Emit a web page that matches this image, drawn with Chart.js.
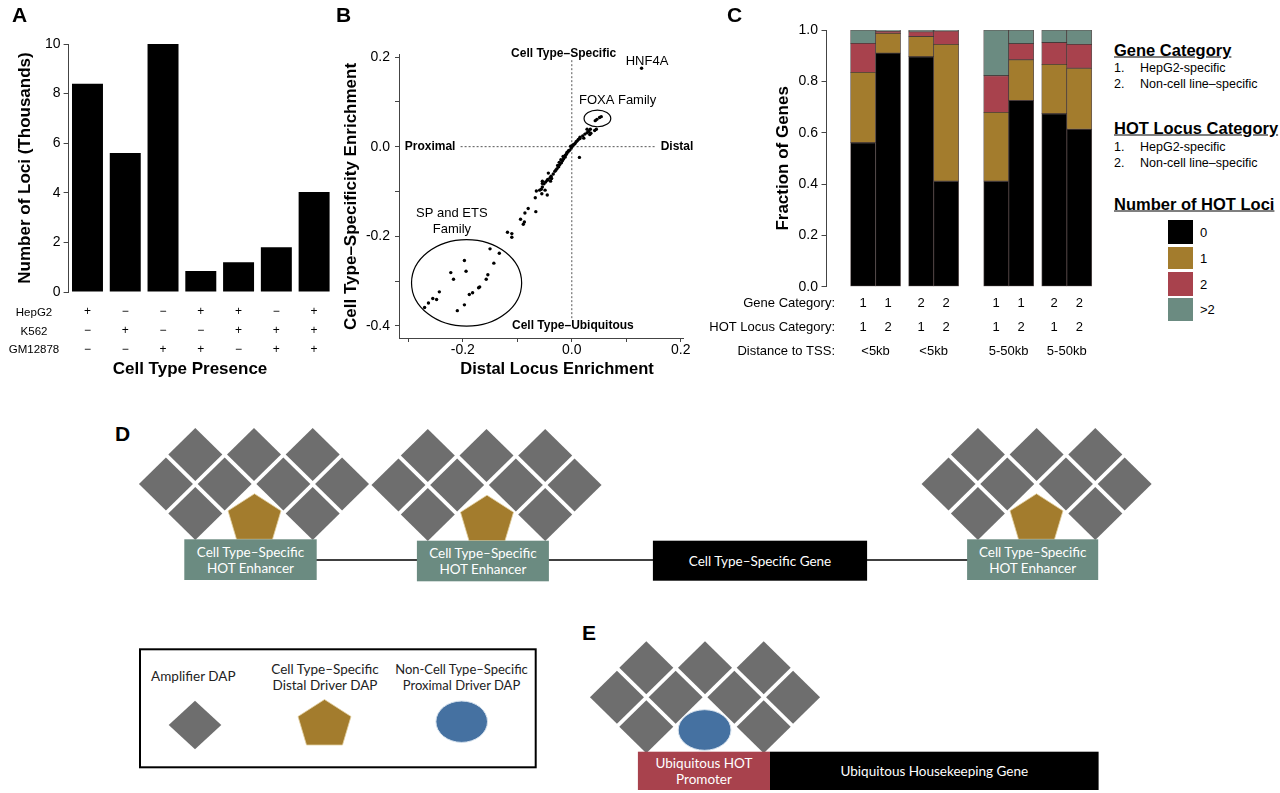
<!DOCTYPE html>
<html>
<head>
<meta charset="utf-8">
<script src="https://cdn.jsdelivr.net/npm/chart.js@4.4.1/dist/chart.umd.min.js"></script>
<style>
  body { margin: 0; background: #fff; }
  #page { position: relative; width: 1280px; height: 793px; overflow: hidden;
          font-family: "Liberation Sans", Arial, sans-serif; color: #000; }
  .box { position: absolute; }
  .t { position: absolute; white-space: nowrap; transform: translateY(-50%); }
  .c { transform: translate(-50%, -50%); }
  .panel { font-weight: bold; font-size: 21px; }
  .axt { font-weight: bold; font-size: 17px; }
  .head { font-weight: bold; font-size: 16.5px; text-decoration: underline; }
  .item { font-size: 12.5px; }
  .sw { position: absolute; left: 1168px; width: 25px; }
  svg { position: absolute; left: 0; top: 0; }
</style>
</head>
<body>
<div id="page">
  <svg id="diagram" width="1280" height="793"></svg>

  <div class="box" style="left:0;top:0;width:340px;height:390px"><canvas id="chartA"></canvas></div>
  <div class="box" style="left:340px;top:0;width:360px;height:390px"><canvas id="chartB"></canvas></div>
  <div class="box" style="left:700px;top:0;width:410px;height:390px"><canvas id="chartC"></canvas></div>

  <div class="t panel" style="left:12px;top:15px">A</div>
  <div class="t panel" style="left:336px;top:15px">B</div>
  <div class="t panel" style="left:727px;top:15px">C</div>
  <div class="t panel" style="left:115px;top:434px">D</div>
  <div class="t panel" style="left:582px;top:633px">E</div>

  <div class="t c axt" style="left:190px;top:369px">Cell Type Presence</div>
  <div class="t c axt" style="left:557px;top:368px;font-size:16.5px">Distal Locus Enrichment</div>

  <div id="rowsA"></div>

  <div class="t head" style="left:1114px;top:50px">Gene Category</div>
  <div class="t item" style="left:1114px;top:68px">1.</div>
  <div class="t item" style="left:1140px;top:68px">HepG2-specific</div>
  <div class="t item" style="left:1114px;top:84px">2.</div>
  <div class="t item" style="left:1140px;top:84px">Non-cell line–specific</div>
  <div class="t head" style="left:1114px;top:128px">HOT Locus Category</div>
  <div class="t item" style="left:1114px;top:147px">1.</div>
  <div class="t item" style="left:1140px;top:147px">HepG2-specific</div>
  <div class="t item" style="left:1114px;top:163px">2.</div>
  <div class="t item" style="left:1140px;top:163px">Non-cell line–specific</div>
  <div class="t head" style="left:1114px;top:204px">Number of HOT Loci</div>
  <div id="legendC"></div>
</div>

<script>
// ---- panel A data ----
const cellTypes = ['HepG2', 'K562', 'GM12878'];
const hepg2   = ['+', '−', '−', '+', '+', '−', '+'];
const k562    = ['−', '+', '−', '−', '+', '+', '+'];
const gm12878 = ['−', '−', '+', '+', '−', '+', '+'];
const lociThousands = [8.4, 5.6, 10.0, 0.85, 1.2, 1.8, 4.03];

// ---- panel B data ----
const distalEnrich = [
  0.128,
  0.043, 0.046, 0.051, 0.054,
  0.045, 0.042, 0.035, 0.034, 0.033, 0.031, 0.028, 0.028, 0.024, 0.022, 0.020, 0.015, 0.015, 0.012,
  0.010, 0.008, 0.006, 0.004, 0.001, 0.002, -0.001, -0.002, -0.004, -0.006, -0.007, -0.009, -0.010,
  -0.012, -0.012, -0.015, -0.016, -0.017, -0.019, -0.020, -0.022, -0.023, -0.024, -0.026, -0.027, -0.029,
  0.014,
  -0.031, -0.034, -0.037, -0.038, -0.040, -0.043, -0.044, -0.045, -0.039, -0.048, -0.051, -0.054,
  -0.054, -0.056, -0.049, -0.059, -0.065, -0.055, -0.045, -0.067, -0.054,
  -0.066, -0.080, -0.086, -0.087, -0.089, -0.094, -0.110, -0.110, -0.118,
  -0.270, -0.263, -0.255, -0.248, -0.243, -0.222, -0.217, -0.197, -0.194, -0.210,
  -0.197, -0.188, -0.182, -0.171, -0.169, -0.157, -0.154, -0.143, -0.150, -0.133
];
const specEnrich = [
  0.175,
  0.058, 0.061, 0.065, 0.067,
  0.039, 0.036, 0.030, 0.039, 0.027, 0.034, 0.039, 0.031, 0.028, 0.019, 0.024, 0.021, 0.018, 0.016,
  0.013, 0.011, 0.007, 0.005, 0.001, 0.004, -0.003, 0.001, -0.008, -0.009, -0.012, -0.013, -0.017,
  -0.019, -0.023, -0.027, -0.022, -0.031, -0.036, -0.029, -0.040, -0.035, -0.045, -0.042, -0.049, -0.052,
  -0.024,
  -0.055, -0.061, -0.071, -0.066, -0.070, -0.059, -0.073, -0.075, -0.077, -0.079, -0.083, -0.077,
  -0.090, -0.095, -0.097, -0.097, -0.099, -0.105, -0.108, -0.114, -0.082,
  -0.145, -0.138, -0.148, -0.168, -0.173, -0.162, -0.194, -0.202, -0.191,
  -0.359, -0.349, -0.339, -0.341, -0.324, -0.281, -0.296, -0.254, -0.278, -0.366,
  -0.353, -0.330, -0.326, -0.315, -0.313, -0.296, -0.286, -0.260, -0.228, -0.238
];

// ---- panel C data ----
const geneCat = ['1', '1', '2', '2', '1', '1', '2', '2'];
const hotCat  = ['1', '2', '1', '2', '1', '2', '1', '2'];
const tssDist = ['<5kb', '<5kb', '5-50kb', '5-50kb'];
const rowNamesC = ['Gene Category:', 'HOT Locus Category:', 'Distance to TSS:'];
const hot0    = [0.561, 0.910, 0.896, 0.411, 0.411, 0.725, 0.674, 0.613];
const hot1    = [0.274, 0.077, 0.079, 0.533, 0.268, 0.159, 0.192, 0.238];
const hot2    = [0.113, 0.008, 0.018, 0.052, 0.143, 0.063, 0.085, 0.093];
const hotMore = [0.052, 0.005, 0.007, 0.004, 0.178, 0.053, 0.049, 0.056];
const hotNames = ['0', '1', '2', '>2'];

const GRAY = '#6e6e6e', GOLD = '#a37c2d', RED = '#a8424d', TEAL = '#6b8b81', BLUE = '#4571a1';
const segColors = ['#000000', GOLD, RED, TEAL];

Chart.defaults.font.family = '"Liberation Sans", Arial, sans-serif';
Chart.defaults.color = '#000';
const AX = '#444';

// ---------- A ----------
new Chart(document.getElementById('chartA'), {
  type: 'bar',
  data: {
    labels: hepg2.map((h, i) => [h, k562[i], gm12878[i]]),
    datasets: [{ data: lociThousands, backgroundColor: '#000', barPercentage: 0.82, categoryPercentage: 1 }]
  },
  options: {
    responsive: true, maintainAspectRatio: false, animation: false,
    layout: { padding: { left: 15, right: 7, top: 44, bottom: 9 } },
    plugins: { legend: { display: false }, tooltip: { enabled: false } },
    scales: {
      x: {
        grid: { display: false, drawTicks: false }, border: { display: false },
        ticks: { font: { size: 12, lineHeight: 1.56 }, padding: 10.6, autoSkip: false, maxRotation: 0 },
        afterFit: s => { s.height = 89; }
      },
      y: {
        min: 0, max: 10,
        ticks: { stepSize: 2, font: { size: 14 }, padding: 3 },
        grid: { drawOnChartArea: false, tickLength: 5, color: AX }, border: { color: AX },
        title: { display: true, text: 'Number of Loci (Thousands)', font: { size: 17, weight: 'bold' }, padding: 0 },
        afterFit: s => { s.width = 53.6; }
      }
    }
  }
});

// row names under A
const rowsA = document.getElementById('rowsA');
cellTypes.forEach((name, i) => {
  const d = document.createElement('div');
  d.className = 't c';
  d.style.cssText = `left:34px;top:${312 + i * 18.7}px;font-size:11.5px`;
  d.textContent = name;
  rowsA.appendChild(d);
});

// ---------- B ----------
const quadrantNotes = {
  id: 'quadrantNotes',
  beforeDatasetsDraw(chart) {
    const { ctx, scales: { x, y } } = chart;
    ctx.save();
    ctx.setLineDash([2, 2]);
    ctx.strokeStyle = '#555';
    ctx.lineWidth = 1;
    ctx.beginPath();
    ctx.moveTo(x.getPixelForValue(-0.204), y.getPixelForValue(0));
    ctx.lineTo(x.getPixelForValue(0.152), y.getPixelForValue(0));
    ctx.moveTo(x.getPixelForValue(0), y.getPixelForValue(0.193));
    ctx.lineTo(x.getPixelForValue(0), y.getPixelForValue(-0.387));
    ctx.stroke();
    ctx.restore();
  },
  afterDraw(chart) {
    const { ctx, scales: { x, y } } = chart;
    ctx.save();
    ctx.strokeStyle = '#000';
    ctx.lineWidth = 1.2;
    [[0.047, 0.063, 0.0245, 0.0186], [-0.193, -0.304, 0.101, 0.0967]].forEach(([cx, cy, rx, ry]) => {
      const px = x.getPixelForValue(cx), py = y.getPixelForValue(cy);
      ctx.beginPath();
      ctx.ellipse(px, py, Math.abs(x.getPixelForValue(cx + rx) - px), Math.abs(y.getPixelForValue(cy + ry) - py), 0, 0, Math.PI * 2);
      ctx.stroke();
    });
    ctx.fillStyle = '#000';
    ctx.textAlign = 'center';
    ctx.textBaseline = 'middle';
    const put = (txt, vx, vy, font) => { ctx.font = font; ctx.fillText(txt, x.getPixelForValue(vx), y.getPixelForValue(vy)); };
    const bold = 'bold 12px "Liberation Sans", Arial', plain = '13px "Liberation Sans", Arial';
    put('Cell Type–Specific', -0.015, 0.207, bold);
    put('Cell Type–Ubiquitous', 0.002, -0.4, bold);
    put('Proximal', -0.260, 0, bold);
    put('Distal', 0.193, 0, bold);
    put('HNF4A', 0.138, 0.191, plain);
    put('FOXA Family', 0.084, 0.104, plain);
    put('SP and ETS', -0.220, -0.148, plain);
    put('Family', -0.220, -0.184, plain);
    ctx.restore();
  }
};
const evenTenth = v => (Math.abs(Math.round(v * 10)) % 2 === 0 ? v.toFixed(1) : '');

new Chart(document.getElementById('chartB'), {
  type: 'scatter',
  data: {
    datasets: [{
      data: distalEnrich.map((v, i) => ({ x: v, y: specEnrich[i] })),
      pointRadius: 1.7, backgroundColor: '#000', borderWidth: 0
    }]
  },
  options: {
    responsive: true, maintainAspectRatio: false, animation: false,
    layout: { padding: { left: 1, right: 17, top: 54.8, bottom: 10 } },
    plugins: { legend: { display: false }, tooltip: { enabled: false } },
    scales: {
      x: {
        type: 'linear', min: -0.317, max: 0.204,
        ticks: { stepSize: 0.1, includeBounds: false, callback: evenTenth, font: { size: 14 }, padding: 0, autoSkip: false, maxRotation: 0 },
        grid: { drawOnChartArea: false, tickLength: 4, color: AX }, border: { color: AX },
        afterFit: s => { s.height = 42; }
      },
      y: {
        min: -0.427, max: 0.205,
        ticks: { stepSize: 0.1, includeBounds: false, callback: evenTenth, font: { size: 14 }, padding: 5, autoSkip: false },
        grid: { drawOnChartArea: false, tickLength: 4, color: AX }, border: { color: AX },
        title: { display: true, text: 'Cell Type–Specificity Enrichment', font: { size: 17, weight: 'bold' }, padding: 0 },
        afterFit: s => { s.width = 58; }
      }
    }
  },
  plugins: [quadrantNotes]
});

// ---------- C ----------
// bar centres in bar-width units: pairs touch, small gap between pairs, wide gap between distance groups
const barPos = [];
geneCat.forEach((g, i) => {
  if (i === 0) barPos.push(1);
  else barPos.push(barPos[i - 1] + 1 + (i % 2 === 0 ? (i === 4 ? 1.0 : 0.32) : 0));
});

const categoryRows = {
  id: 'categoryRows',
  afterDraw(chart) {
    const { ctx, chartArea, scales: { x } } = chart;
    const rows = [17, 41, 65].map(d => chartArea.bottom + d);
    ctx.save();
    ctx.font = '13px "Liberation Sans", Arial';
    ctx.fillStyle = '#000';
    ctx.textBaseline = 'middle';
    ctx.textAlign = 'right';
    rowNamesC.forEach((n, r) => ctx.fillText(n, chartArea.left + 8.5, rows[r]));
    ctx.textAlign = 'center';
    barPos.forEach((p, i) => {
      const px = x.getPixelForValue(p);
      ctx.fillText(geneCat[i], px, rows[0]);
      ctx.fillText(hotCat[i], px, rows[1]);
    });
    tssDist.forEach((t, j) => {
      const px = (x.getPixelForValue(barPos[2 * j]) + x.getPixelForValue(barPos[2 * j + 1])) / 2;
      ctx.fillText(t, px, rows[2]);
    });
    ctx.restore();
  }
};

new Chart(document.getElementById('chartC'), {
  type: 'bar',
  data: {
    datasets: [hot0, hot1, hot2, hotMore].map((vals, k) => ({
      label: hotNames[k],
      data: vals.map((v, i) => ({ x: barPos[i], y: v })),
      backgroundColor: segColors[k],
      borderColor: 'rgba(40,25,25,0.75)',
      borderWidth: 0.8,
      borderSkipped: false,
      barPercentage: 1, categoryPercentage: 1
    }))
  },
  options: {
    responsive: true, maintainAspectRatio: false, animation: false,
    layout: { padding: { left: 71, right: 2.7, top: 30, bottom: 103.3 } },
    plugins: { legend: { display: false }, tooltip: { enabled: false } },
    scales: {
      x: { type: 'linear', display: false, stacked: true, min: 0.1, max: 10.2, ticks: { stepSize: 1, includeBounds: false } },
      y: {
        stacked: true, min: 0, max: 1,
        ticks: { stepSize: 0.2, callback: v => v.toFixed(1), font: { size: 14 }, padding: 3.5 },
        grid: { drawOnChartArea: false, tickLength: 5, color: AX }, border: { color: AX },
        title: { display: true, text: 'Fraction of Genes', font: { size: 17, weight: 'bold' }, padding: { top: 2, bottom: 0 } },
        afterFit: s => { s.width = 55.5; }
      }
    }
  },
  plugins: [categoryRows]
});

// legend swatches for C
const legendC = document.getElementById('legendC');
[[220, 244.3], [246.7, 269.3], [271.7, 295.7], [297.7, 321]].forEach(([t, b], k) => {
  const s = document.createElement('div');
  s.className = 'sw';
  s.style.cssText = `top:${t}px;height:${b - t}px;background:${segColors[k]}`;
  legendC.appendChild(s);
  const l = document.createElement('div');
  l.className = 't';
  l.style.cssText = `left:1200px;top:${(t + b) / 2}px;font-size:13px`;
  l.textContent = hotNames[k];
  legendC.appendChild(l);
});

// ---------- D / E schematics ----------
const NS = 'http://www.w3.org/2000/svg';
const svg = document.getElementById('diagram');
function el(tag, attrs, text) {
  const e = document.createElementNS(NS, tag);
  for (const k in attrs) e.setAttribute(k, attrs[k]);
  if (text) e.textContent = text;
  svg.appendChild(e);
  return e;
}
function diamond(cx, cy, hw = 27, hh = 26.5) {
  el('polygon', { points: `${cx},${cy - hh} ${cx + hw},${cy} ${cx},${cy + hh} ${cx - hw},${cy}`, fill: GRAY });
}
function pentagon(cx, base) {
  el('polygon', {
    points: `${cx},${base - 45.5} ${cx + 26.5},${base - 28.5} ${cx + 18},${base} ${cx - 18},${base} ${cx - 26.5},${base - 28.5}`,
    fill: GOLD, stroke: '#e2cfa0', 'stroke-width': 0.8
  });
}
function blob(cx, cy, rx = 26, ry = 20.5) {
  el('ellipse', { cx, cy, rx, ry, fill: BLUE, stroke: '#d6e2ee', 'stroke-width': 1 });
}
function cluster(cx, midY) {
  const s = 58.7, dy = 29.5;
  [-1, 0, 1].forEach(k => diamond(cx + k * s, midY - dy));
  [-1.5, -0.5, 0.5, 1.5].forEach(k => diamond(cx + k * s, midY));
  [-1, 1].forEach(k => diamond(cx + k * s, midY + dy));
}
function label(x, y, lines, fill, size = 13.5) {
  const gap = size * 1.2;
  lines.forEach((ln, i) => el('text', {
    x, y: y + (i - (lines.length - 1) / 2) * gap, fill,
    'font-family': 'Lato, "Open Sans", sans-serif', 'font-size': size,
    'text-anchor': 'middle', 'dominant-baseline': 'central'
  }, ln));
}
function block(x1, y1, x2, y2, fill, lines, size) {
  el('rect', { x: x1, y: y1, width: x2 - x1, height: y2 - y1, fill });
  label((x1 + x2) / 2, (y1 + y2) / 2, lines, '#fff', size);
}

// D
el('line', { x1: 316, y1: 560, x2: 968, y2: 560, stroke: '#000', 'stroke-width': 1.5 });
const enh = ['Cell Type–Specific', 'HOT Enhancer'];
cluster(254, 484);   pentagon(254.5, 539.3); block(184.3, 539.3, 316.7, 580, TEAL, enh);
cluster(486.5, 485); pentagon(487, 540.7);   block(416.9, 540.7, 548.9, 581.3, TEAL, enh);
block(652.9, 540.7, 867.1, 580.7, '#000', ['Cell Type–Specific Gene']);
cluster(1036.6, 484); pentagon(1036.5, 539.3); block(967.1, 539.3, 1098.2, 580, TEAL, enh);

// legend box
el('rect', { x: 140, y: 649.3, width: 395.7, height: 118, fill: 'none', stroke: '#000', 'stroke-width': 2 });
label(193.3, 676, ['Amplifier DAP'], '#222', 13.5);
label(325, 677, ['Cell Type–Specific', 'Distal Driver DAP'], '#222', 13.5);
label(461.5, 677, ['Non-Cell Type–Specific', 'Proximal Driver DAP'], '#222', 13);
diamond(195, 725, 26.3, 24.2);
pentagon(324.5, 745);
blob(461.7, 721.7, 25.8, 20.7);

// E
cluster(705, 697.3);
blob(704.6, 730, 26.4, 20.3);
block(637.9, 751.7, 770, 790, RED, ['Ubiquitous HOT', 'Promoter'], 13.5);
block(770, 751.7, 1098.6, 790, '#000', ['Ubiquitous Housekeeping Gene'], 13.5);
</script>
</body>
</html>
